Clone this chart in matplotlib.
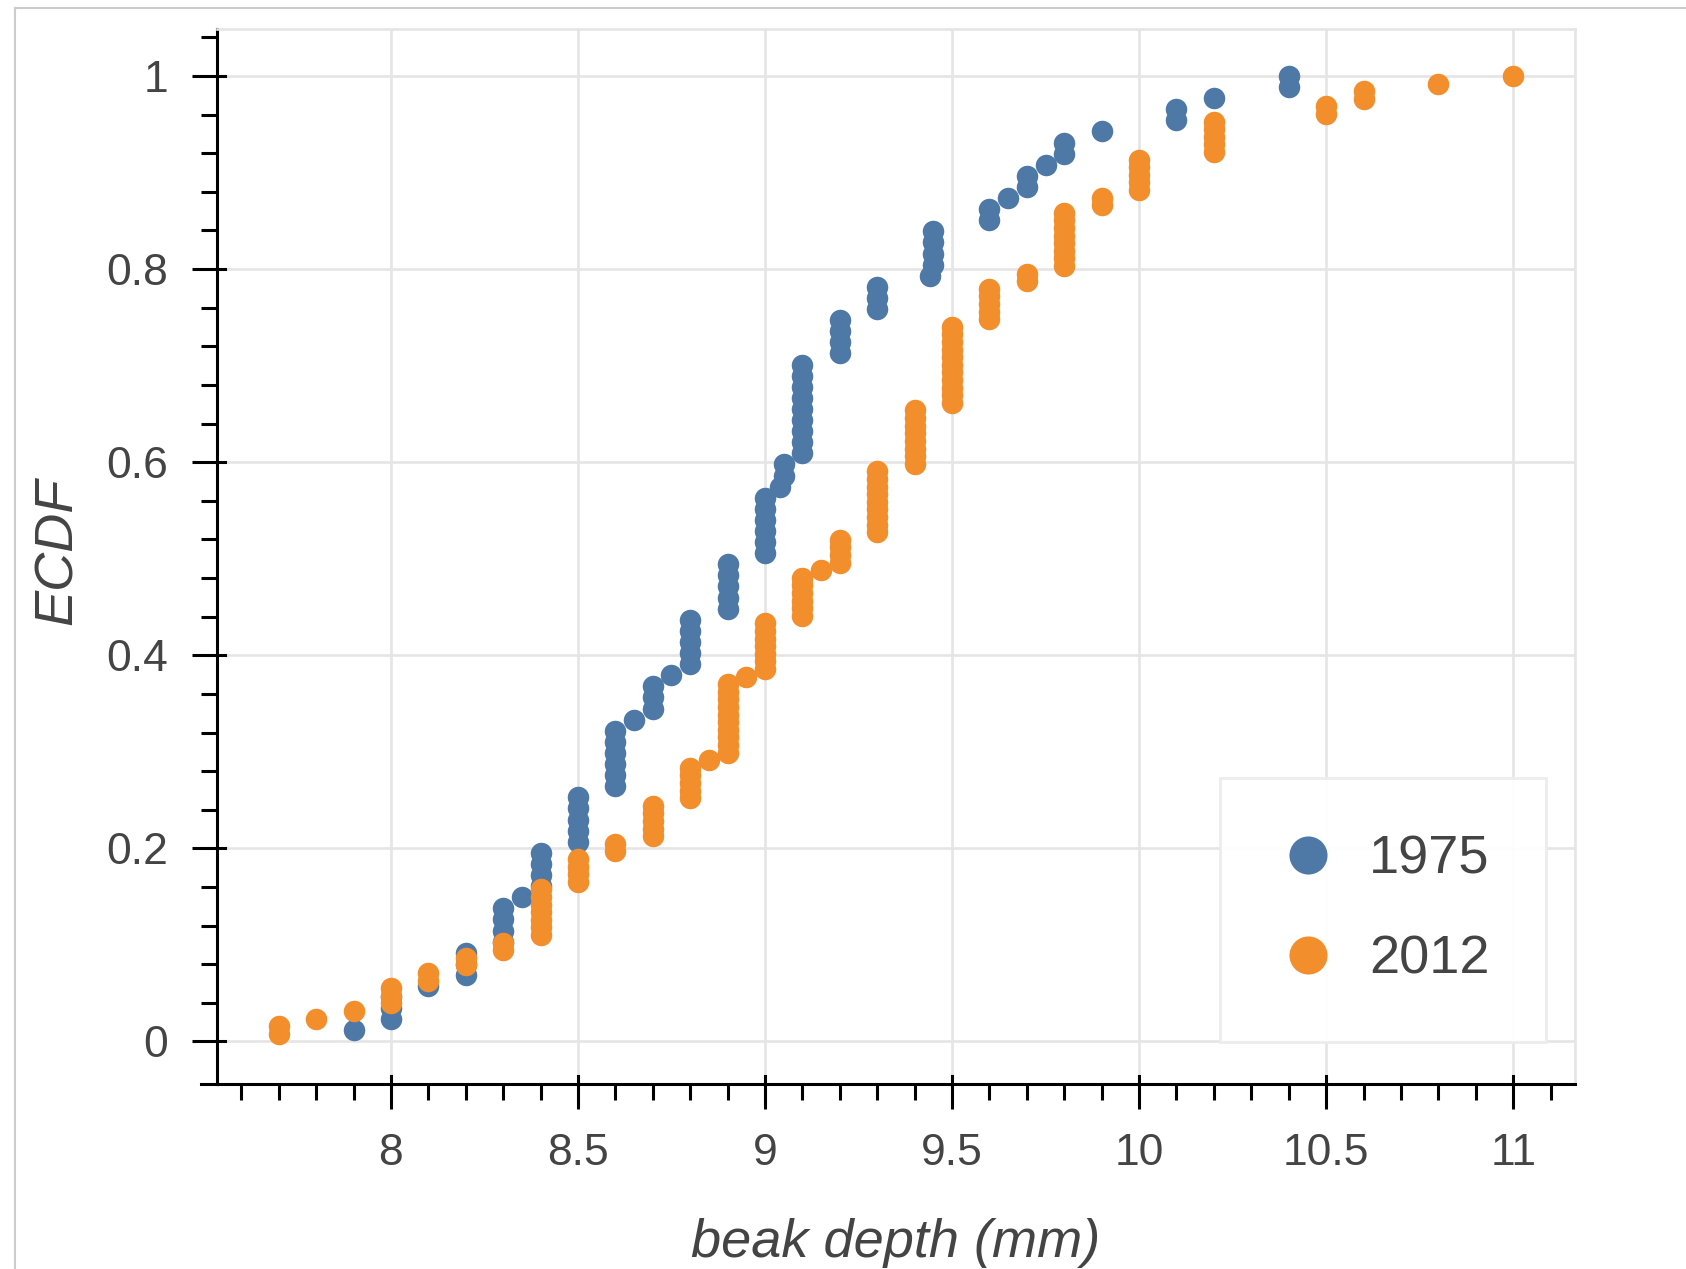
import numpy as np
import matplotlib
matplotlib.use('Agg')
import matplotlib.pyplot as plt
from matplotlib import ticker, transforms
from matplotlib.lines import Line2D

plt.rcParams['font.family'] = ['Liberation Sans', 'DejaVu Sans']

# beak depth values (mm) and how many birds had each value
depth_1975 = [7.9, 8.0, 8.1, 8.2, 8.3, 8.35, 8.4, 8.5, 8.6, 8.65, 8.7, 8.75, 8.8, 8.9,
              9.0, 9.04, 9.05, 9.1, 9.2, 9.3, 9.44, 9.45, 9.6, 9.65, 9.7, 9.75, 9.8,
              9.9, 10.1, 10.2, 10.4]
count_1975 = [1, 3, 1, 3, 4, 1, 4, 5, 6, 1, 3, 1, 5, 5,
              6, 1, 2, 9, 4, 3, 1, 4, 2, 1, 2, 1, 2,
              1, 2, 1, 2]

depth_2012 = [7.7, 7.8, 7.9, 8.0, 8.1, 8.2, 8.3, 8.4, 8.5, 8.6, 8.7, 8.8, 8.85, 8.9,
              8.95, 9.0, 9.1, 9.15, 9.2, 9.3, 9.4, 9.5, 9.6, 9.7, 9.8, 9.9, 10.0,
              10.2, 10.5, 10.6, 10.8, 11.0]
count_2012 = [2, 1, 1, 3, 2, 2, 2, 7, 4, 2, 5, 5, 1, 10,
              1, 7, 6, 1, 4, 9, 8, 11, 5, 2, 8, 2, 5,
              5, 2, 2, 1, 1]

years = ['1975', '2012']
colors = ['#4e79a7', '#f28e2b']

x_major = [8, 8.5, 9, 9.5, 10, 10.5, 11]
y_major = [0, 0.2, 0.4, 0.6, 0.8, 1]


def ecdf(values, counts):
    x = np.repeat(values, counts)
    y = np.arange(1, len(x) + 1) / len(x)
    return x, y


label_col = '#444444'
grid_col = '#e5e5e5'

fig = plt.figure(figsize=(16.86, 12.69), dpi=100)
ax = fig.add_axes([0.1287, 0.1458, 0.8054, 0.8316])

handles = []
for yr, vals, cnts, col in zip(years, [depth_1975, depth_2012],
                               [count_1975, count_2012], colors):
    x, y = ecdf(vals, cnts)
    h = ax.scatter(x, y, s=240, color=col, linewidths=0, label=yr, zorder=3)
    handles.append(h)

ax.set_xlim(7.535, 11.165)
ax.set_ylim(-0.044, 1.049)

ax.xaxis.set_major_locator(ticker.FixedLocator(x_major))
ax.xaxis.set_minor_locator(ticker.FixedLocator(np.arange(7.6, 11.15, 0.1)))
ax.yaxis.set_major_locator(ticker.FixedLocator(y_major))
ax.yaxis.set_minor_locator(ticker.FixedLocator(np.arange(0, 1.041, 0.04)))
ax.xaxis.set_major_formatter(ticker.FuncFormatter(lambda v, p: f'{v:g}'))
ax.yaxis.set_major_formatter(ticker.FuncFormatter(lambda v, p: f'{v:g}'))

ax.tick_params(which='major', direction='out', length=18, width=2.2, color='black',
               labelsize=32, labelcolor=label_col, pad=17)
ax.tick_params(which='minor', direction='out', length=11.5, width=2.2, color='black')

# short inner part of the major ticks
tx = transforms.blended_transform_factory(ax.transData, ax.transAxes)
ty = transforms.blended_transform_factory(ax.transAxes, ax.transData)
for v in x_major:
    ax.plot([v, v], [0, 0.0076], transform=tx, color='black', lw=2.2, clip_on=False, zorder=4)
for v in y_major:
    ax.plot([0, 0.0059], [v, v], transform=ty, color='black', lw=2.2, clip_on=False, zorder=4)
# x axis line runs a bit left of the y axis
ax.plot([-0.012, 0], [0, 0], transform=ax.transAxes, color='black', lw=2.2, clip_on=False)

ax.grid(True, which='major', color=grid_col, lw=1.9)
ax.set_axisbelow(True)
for side in ['left', 'bottom']:
    ax.spines[side].set_color('black')
    ax.spines[side].set_linewidth(2.2)
for side in ['top', 'right']:
    ax.spines[side].set_color(grid_col)
    ax.spines[side].set_linewidth(1.9)

ax.set_xlabel('beak depth (mm)', fontsize=39, style='italic', color=label_col)
ax.xaxis.label.set_va('baseline')
ax.xaxis.set_label_coords(0.5, -0.164)
ax.set_ylabel('ECDF', fontsize=39, style='italic', color=label_col)
ax.yaxis.label.set_va('center')
ax.yaxis.set_label_coords(-0.117, 0.505)

leg = ax.legend(handles=handles, loc='lower left', bbox_to_anchor=(0.739, 0.0402),
                borderaxespad=0, fontsize=39, markerscale=1.77, scatterpoints=1,
                scatteryoffsets=[0.5], borderpad=1.05, handlelength=1.13,
                handletextpad=0.56, labelspacing=0.92, fancybox=False,
                edgecolor='#ececec', framealpha=0.95, labelcolor=label_col)
leg.get_frame().set_linewidth(2)

# light frame around the whole plot
x0 = 15 / 1686
y0 = 1 - 7.7 / 1269
fig.add_artist(Line2D([x0, x0], [0, y0], transform=fig.transFigure, color='#cccccc', lw=1.5))
fig.add_artist(Line2D([x0, 1], [y0, y0], transform=fig.transFigure, color='#cccccc', lw=1.5))

fig.savefig('out.png', dpi=100)
